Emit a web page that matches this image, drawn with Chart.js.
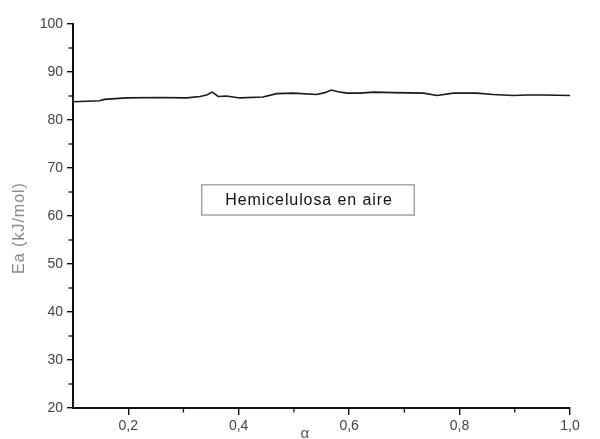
<!DOCTYPE html>
<html>
<head>
<meta charset="utf-8">
<script src="https://cdn.jsdelivr.net/npm/chart.js@4/dist/chart.umd.min.js"></script>
<style>
  html, body { margin: 0; padding: 0; background: #fff; }
  #wrap { width: 600px; height: 439px; }
</style>
</head>
<body>
<div id="wrap"><canvas id="grafico"></canvas></div>
<script>
// Datos
const alfa = [0.100, 0.148, 0.157, 0.197, 0.257, 0.306, 0.330, 0.342, 0.352, 0.363,
              0.378, 0.402, 0.444, 0.469, 0.499, 0.541, 0.556, 0.568, 0.580, 0.596,
              0.620, 0.644, 0.680, 0.735, 0.759, 0.789, 0.831, 0.861, 0.898, 0.922,
              0.952, 1.000];
const ea = [83.8, 84.0, 84.3, 84.6, 84.7, 84.6, 84.9, 85.2, 85.8, 84.9,
            85.0, 84.6, 84.8, 85.5, 85.6, 85.3, 85.7, 86.25, 85.9, 85.6,
            85.6, 85.8, 85.7, 85.6, 85.1, 85.6, 85.6, 85.3, 85.1, 85.2,
            85.2, 85.1];

// Ticks de los ejes
const xMayores = [0.2, 0.4, 0.6, 0.8, 1.0];
const xMenores = [0.3, 0.5, 0.7, 0.9];
const yMayores = [20, 30, 40, 50, 60, 70, 80, 90, 100];
const yMenores = [25, 35, 45, 55, 65, 75, 85, 95];

const etiquetaLeyenda = 'Hemicelulosa en aire';
const tituloY = 'Ea (kJ/mol)';
const tituloX = 'α';

const fuente = '"Liberation Sans", Arial, sans-serif';

// Plugin para ticks menores, titulos de ejes y el cuadro de leyenda
const extras = {
    id: 'extras',
    afterDraw(chart) {
        const ctx = chart.ctx;
        const x = chart.scales.x, y = chart.scales.y;
        ctx.save();
        ctx.strokeStyle = '#111';
        ctx.lineWidth = 1.3;
        // ticks menores
        xMenores.forEach(v => {
            const px = x.getPixelForValue(v);
            ctx.beginPath(); ctx.moveTo(px, y.bottom); ctx.lineTo(px, y.bottom + 4.5); ctx.stroke();
        });
        yMenores.forEach(v => {
            const py = y.getPixelForValue(v);
            ctx.beginPath(); ctx.moveTo(x.left, py); ctx.lineTo(x.left - 4.5, py); ctx.stroke();
        });
        ctx.textAlign = 'center';
        ctx.textBaseline = 'middle';
        // titulo eje y
        ctx.fillStyle = '#888';
        ctx.font = '16px ' + fuente;
        ctx.letterSpacing = '1px';
        ctx.save();
        ctx.translate(20, y.getPixelForValue(57.5));
        ctx.rotate(-Math.PI / 2);
        ctx.fillText(tituloY, 0, 0);
        ctx.restore();
        ctx.letterSpacing = '0px';
        // titulo eje x
        ctx.fillStyle = '#555';
        ctx.font = '15px ' + fuente;
        ctx.fillText(tituloX, x.getPixelForValue(0.52), 434);
        // cuadro de leyenda
        const l = x.getPixelForValue(0.333), r = x.getPixelForValue(0.718);
        const t = y.getPixelForValue(66.5), b = y.getPixelForValue(60.2);
        ctx.strokeStyle = '#999';
        ctx.lineWidth = 1.3;
        ctx.strokeRect(l, t, r - l, b - t);
        ctx.fillStyle = '#111';
        ctx.font = '16px ' + fuente;
        ctx.letterSpacing = '0.9px';
        ctx.fillText(etiquetaLeyenda, (l + r) / 2 + 1, (t + b) / 2 + 1);
        ctx.restore();
    }
};

new Chart(document.getElementById('grafico'), {
    type: 'line',
    data: {
        datasets: [{
            label: etiquetaLeyenda,
            data: alfa.map((a, i) => ({ x: a, y: ea[i] })),
            borderColor: '#1a1a1a',
            borderWidth: 1.6,
            pointRadius: 0,
            tension: 0,
            fill: false
        }]
    },
    options: {
        responsive: true,
        maintainAspectRatio: false,
        animation: false,
        layout: { padding: { top: 24, right: 30, left: 0, bottom: 0 } },
        plugins: {
            legend: { display: false },
            tooltip: { enabled: false }
        },
        scales: {
            x: {
                type: 'linear',
                min: 0.1,
                max: 1.0,
                afterBuildTicks: s => { s.ticks = xMayores.map(v => ({ value: v })); },
                afterFit: s => { s.height = 31; },
                grid: { drawOnChartArea: false, drawTicks: true, tickLength: 7, color: '#111', lineWidth: 1.4 },
                border: { color: '#111', width: 2 },
                ticks: {
                    color: '#444',
                    font: { family: fuente, size: 14 },
                    padding: 3,
                    maxRotation: 0,
                    callback: v => v.toFixed(1).replace('.', ',')
                }
            },
            y: {
                min: 20,
                max: 100,
                afterBuildTicks: s => { s.ticks = yMayores.map(v => ({ value: v })); },
                afterFit: s => { s.width = 73; },
                grid: { drawOnChartArea: false, drawTicks: true, tickLength: 6, color: '#111', lineWidth: 1.4 },
                border: { color: '#111', width: 2 },
                ticks: {
                    color: '#444',
                    font: { family: fuente, size: 14 },
                    padding: 4
                }
            }
        }
    },
    plugins: [extras]
});
</script>
</body>
</html>
